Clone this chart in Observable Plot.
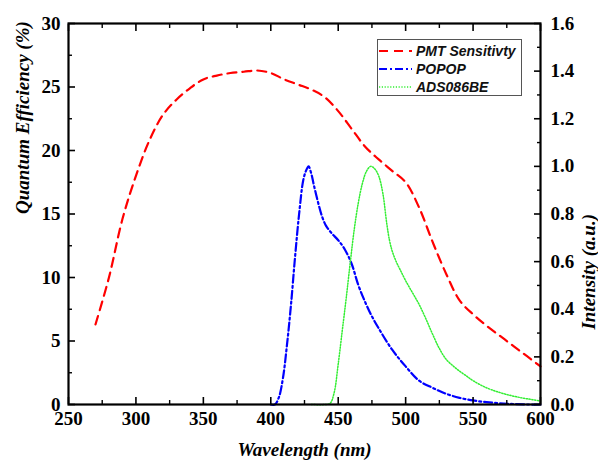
<!DOCTYPE html>
<html>
<head>
<meta charset="utf-8">
<script src="https://cdn.jsdelivr.net/npm/d3@7"></script>
<script src="https://cdn.jsdelivr.net/npm/@observablehq/plot@0.6"></script>
<style>
  html, body { margin: 0; padding: 0; background: #fff; }
  #wrap { position: relative; width: 598px; height: 465px; overflow: hidden; }
  #legend {
    position: absolute; left: 377px; top: 39px; width: 145px; height: 57px;
    border: 1px solid #555; box-sizing: border-box; background: #fff;
    font-family: "Liberation Sans", Arial, sans-serif; font-weight: bold; font-style: italic;
    font-size: 14px; color: #111;
  }
  .row { position: absolute; left: 0; height: 18px; display: flex; align-items: center; }
  .row svg { display: block; margin-left: 1px; margin-right: 4px; }
</style>
</head>
<body>
<div id="wrap">
  <div id="chart"></div>
  <div id="legend"></div>
</div>
<script>
// PMT sensitivity (quantum efficiency, %), left axis
const pmtWavelength = [270, 280, 290, 300, 310, 320, 330, 340, 350, 360, 370, 380, 390, 400, 410, 420, 430, 440, 450, 460, 470, 480, 490, 500, 510, 520, 530, 540, 550, 560, 570, 580, 590, 600];
const pmtQE = [6.3, 10.0, 14.6, 18.0, 20.8, 22.8, 24.0, 24.9, 25.6, 25.9, 26.1, 26.2, 26.3, 26.1, 25.6, 25.2, 24.8, 24.2, 23.1, 21.7, 20.3, 19.3, 18.4, 17.5, 15.5, 12.8, 10.3, 8.2, 7.1, 6.2, 5.4, 4.6, 3.8, 3.0];

// POPOP emission (intensity, a.u.), right axis
const popopWavelength = [400, 403, 406, 409, 412, 415, 418, 421, 424, 426, 428, 430, 432, 435, 438, 441, 445, 450, 455, 460, 465, 470, 475, 480, 490, 500, 510, 520, 530, 540, 550, 560, 570, 580, 590, 600];
const popopIntensity = [0, 0, 0.03, 0.11, 0.25, 0.42, 0.62, 0.8, 0.94, 0.98, 1.0, 0.97, 0.92, 0.85, 0.79, 0.75, 0.72, 0.69, 0.65, 0.59, 0.5, 0.43, 0.37, 0.32, 0.23, 0.16, 0.10, 0.07, 0.045, 0.028, 0.017, 0.01, 0.005, 0.002, 0, 0];

// ADS086BE emission (intensity, a.u.), right axis
const adsWavelength = [430, 440, 444, 447, 450, 453, 456, 459, 462, 465, 468, 471, 474, 477, 480, 483, 486, 488, 490, 493, 496, 500, 505, 510, 515, 520, 525, 530, 535, 540, 545, 550, 560, 570, 580, 590, 600];
const adsIntensity = [0, 0, 0.005, 0.05, 0.17, 0.31, 0.45, 0.6, 0.74, 0.85, 0.93, 0.98, 1.0, 0.99, 0.96, 0.89, 0.76, 0.69, 0.645, 0.6, 0.565, 0.52, 0.47, 0.42, 0.36, 0.295, 0.235, 0.19, 0.163, 0.14, 0.12, 0.1, 0.07, 0.05, 0.035, 0.024, 0.015];

// axes
const xMajor = [250, 300, 350, 400, 450, 500, 550, 600];
const xMinor = [275, 325, 375, 425, 475, 525, 575];
const yLeftMajor = [0, 5, 10, 15, 20, 25, 30];
const yLeftMinor = [2.5, 7.5, 12.5, 17.5, 22.5, 27.5];
const yRightMajor = [0, 0.2, 0.4, 0.6, 0.8, 1.0, 1.2, 1.4, 1.6];
const yRightMinor = [0.1, 0.3, 0.5, 0.7, 0.9, 1.1, 1.3, 1.5];

const seriesNames = ["PMT Sensitivty", "POPOP", "ADS086BE"];
const seriesColors = ["#ff0000", "#0000ff", "#33ee33"];
const seriesDash = ["9,6", "8,3,2,3", "1.2,1.6"];
const seriesWidth = [2.2, 2.2, 1.5];

const k = 30 / 1.6; // right-axis units to left-axis units

const pmt = pmtWavelength.map((w, i) => ({w, v: pmtQE[i]}));
const popop = popopWavelength.map((w, i) => ({w, v: popopIntensity[i] * k}));
const ads = adsWavelength.map((w, i) => ({w, v: adsIntensity[i] * k}));

const serif = "Liberation Serif";
const tickFont = {fontFamily: serif, fontWeight: "bold", fontSize: 19};
const titleFont = {fontFamily: serif, fontWeight: "bold", fontStyle: "italic", fontSize: 19};

const chart = Plot.plot({
  width: 598,
  height: 465,
  marginLeft: 68,
  marginRight: 58,
  marginTop: 23,
  marginBottom: 61,
  style: {background: "#fff", color: "#000", fontFamily: serif},
  x: {domain: [250, 600]},
  y: {domain: [0, 30]},
  marks: [
    Plot.line(pmt, {x: "w", y: "v", stroke: seriesColors[0], strokeWidth: seriesWidth[0], strokeDasharray: seriesDash[0], curve: "catmull-rom"}),
    Plot.line(popop, {x: "w", y: "v", stroke: seriesColors[1], strokeWidth: seriesWidth[1], strokeDasharray: seriesDash[1], curve: "catmull-rom"}),
    Plot.line(ads, {x: "w", y: "v", stroke: seriesColors[2], strokeWidth: seriesWidth[2], strokeDasharray: seriesDash[2], curve: "catmull-rom"}),
    // bottom axis
    Plot.axisX({anchor: "bottom", ticks: xMajor, tickSize: -7, tickPadding: 14, strokeWidth: 1.6, label: null, tickFormat: d => d, ...tickFont}),
    Plot.axisX({anchor: "bottom", ticks: xMinor, tickSize: -4, strokeWidth: 1.4, label: null, tickFormat: () => ""}),
    // top axis
    Plot.axisX({anchor: "top", ticks: xMajor, tickSize: -7, strokeWidth: 1.6, label: null, tickFormat: () => ""}),
    Plot.axisX({anchor: "top", ticks: xMinor, tickSize: -4, strokeWidth: 1.4, label: null, tickFormat: () => ""}),
    // left axis
    Plot.axisY({anchor: "left", ticks: yLeftMajor, tickSize: -7, tickPadding: 15, strokeWidth: 1.6, label: null, tickFormat: d => d, ...tickFont}),
    Plot.axisY({anchor: "left", ticks: yLeftMinor, tickSize: -4, strokeWidth: 1.4, label: null, tickFormat: () => ""}),
    // right axis (intensity)
    Plot.axisY({anchor: "right", ticks: yRightMajor.map(d => d * k), tickSize: -7, tickPadding: 17, strokeWidth: 1.6, label: null, tickFormat: d => (d / k).toFixed(1), ...tickFont}),
    Plot.axisY({anchor: "right", ticks: yRightMinor.map(d => d * k), tickSize: -4, strokeWidth: 1.4, label: null, tickFormat: () => ""}),
    Plot.frame({stroke: "#000", strokeWidth: 2.2}),
    // titles
    Plot.text(["Quantum Efficiency (%)"], {frameAnchor: "left", rotate: -90, dx: -46, ...titleFont}),
    Plot.text(["Intensity (a.u.)"], {frameAnchor: "right", rotate: -90, dx: 48, ...titleFont}),
    Plot.text(["Wavelength (nm)"], {frameAnchor: "bottom", dy: 51, ...titleFont})
  ]
});
// make sure every SVG text uses the serif face
chart.querySelectorAll("text, g").forEach(el => {
  if (el.hasAttribute("font-family") || el.tagName === "text") {
    el.setAttribute("font-family", "Liberation Serif");
    el.style.fontFamily = "'Liberation Serif'";
  }
});
chart.setAttribute("font-family", "Liberation Serif");
document.getElementById("chart").appendChild(chart);

// legend
const legend = document.getElementById("legend");
seriesNames.forEach((name, i) => {
  const row = document.createElement("div");
  row.className = "row";
  row.style.top = (2 + i * 18) + "px";
  row.innerHTML = `<svg width="33" height="10"><line x1="0" y1="5" x2="33" y2="5" stroke="${seriesColors[i]}" stroke-width="${seriesWidth[i]}" stroke-dasharray="${seriesDash[i]}"/></svg><span>${name}</span>`;
  legend.appendChild(row);
});
</script>
</body>
</html>
